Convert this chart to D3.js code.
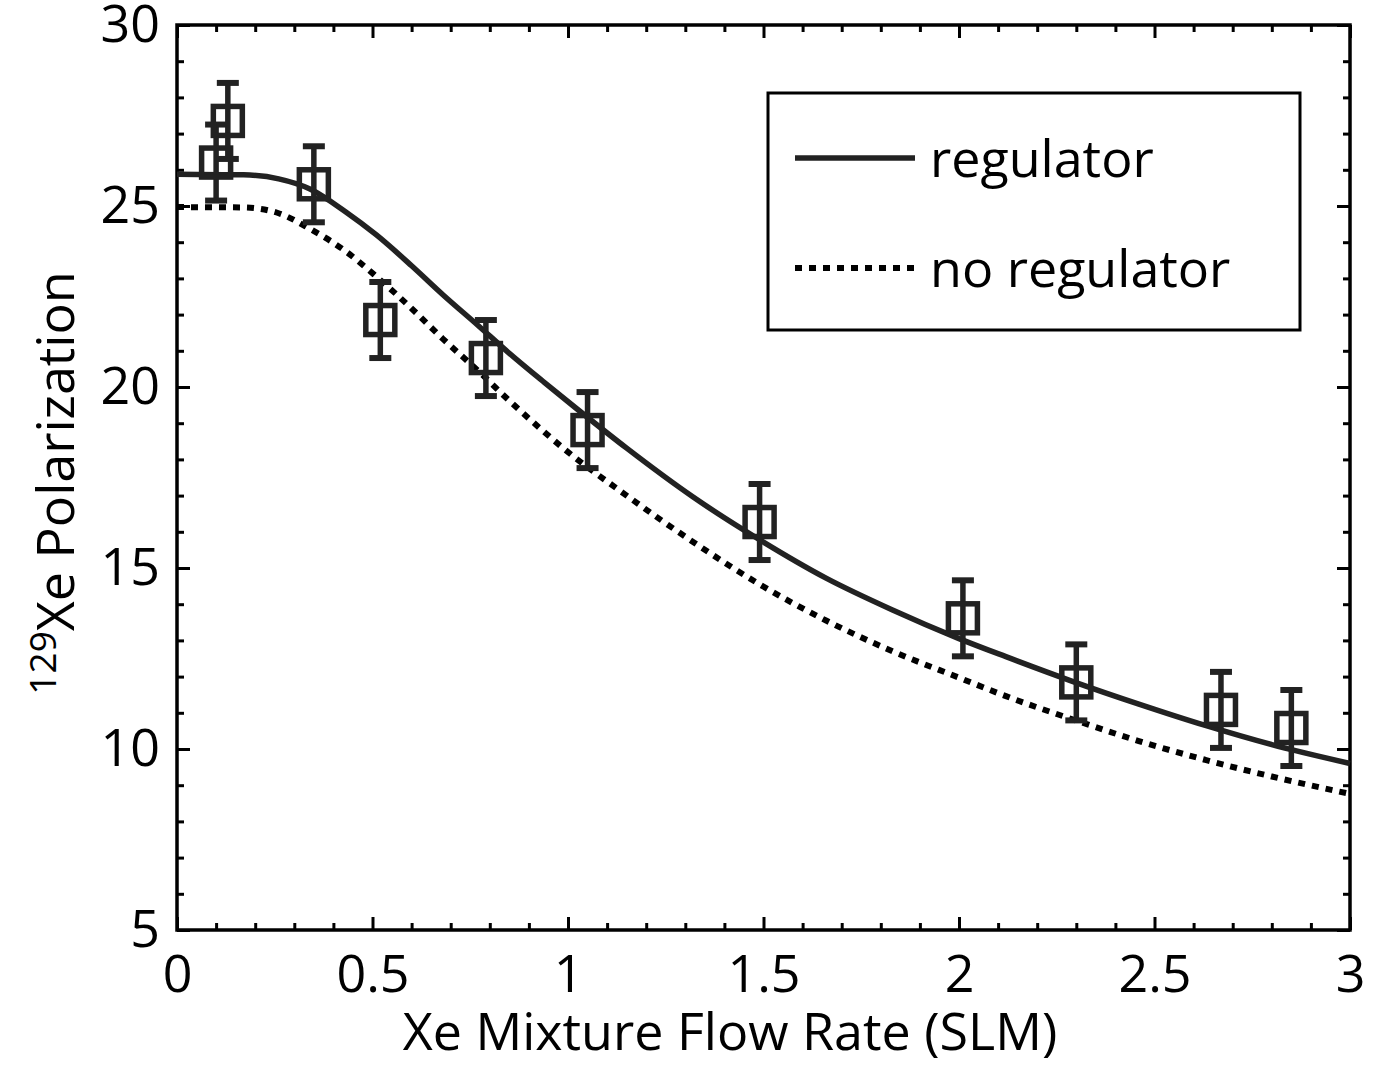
<!DOCTYPE html>
<html>
<head>
<meta charset="utf-8">
<script src="https://cdn.jsdelivr.net/npm/d3@7"></script>
<style>
    body { margin: 0; background: #fff; }
    text { font-family: "Open Sans", sans-serif; fill: #000; }
</style>
</head>
<body>
<div id="chart"></div>
<script>
// --------------------------------------------------
// Xe polarization vs. mixture flow rate, measured points + two fit curves

// measured points (with error bars)
var flowRate = [0.10, 0.13, 0.35, 0.52, 0.79, 1.05, 1.49, 2.01, 2.30, 2.67, 2.85];
var polarization = [26.2, 27.35, 25.6, 21.85, 20.8, 18.81, 16.27, 13.61, 11.84, 11.08, 10.58];
var polErr = [1.05, 1.05, 1.05, 1.05, 1.05, 1.05, 1.05, 1.05, 1.05, 1.05, 1.05];

// "regulator" curve (solid)
var regX = [0.00, 0.17, 0.26, 0.34, 0.43, 0.51, 0.60, 0.68, 0.77, 0.85, 0.94, 1.02,
    1.15, 1.32, 1.49, 1.66, 1.83, 2.00, 2.12, 2.29, 2.46, 2.63, 2.80, 3.00];
var regY = [25.88, 25.86, 25.75, 25.47, 24.85, 24.20, 23.35, 22.55, 21.70, 20.93, 20.12, 19.42,
    18.31, 16.96, 15.78, 14.72, 13.84, 13.05, 12.55, 11.87, 11.24, 10.65, 10.12, 9.60];

// "no regulator" curve (dotted)
var noRegX = [0.00, 0.17, 0.26, 0.34, 0.43, 0.51, 0.60, 0.68, 0.77, 0.85, 0.94, 0.98,
    1.15, 1.32, 1.49, 1.66, 1.83, 2.00, 2.12, 2.29, 2.46, 2.63, 2.80, 3.00];
var noRegY = [24.97, 24.96, 24.80, 24.37, 23.76, 23.05, 22.17, 21.33, 20.45, 19.62, 18.75, 18.38,
    17.00, 15.72, 14.55, 13.55, 12.70, 11.97, 11.46, 10.82, 10.22, 9.70, 9.24, 8.76];

var xTicks = [0, 0.5, 1, 1.5, 2, 2.5, 3];
var yTicks = [5, 10, 15, 20, 25, 30];
var legendLabels = ["regulator", "no regulator"];

var margin = { left: 177, right: 28, top: 25, bottom: 135 };
var width = 1378 - margin.left - margin.right;
var height = 1065 - margin.top - margin.bottom;

var svg = d3.select("#chart")
    .append("svg")
    .attr("width", 1378)
    .attr("height", 1065);

var g = svg.append("g")
    .attr("transform", "translate(" + margin.left + ", " + margin.top + ")");

var x = d3.scaleLinear().domain([0, 3]).range([0, width]);
var y = d3.scaleLinear().domain([5, 30]).range([height, 0]);

// minor tick values
var xMinor = d3.range(0, 31).map(function(i) { return i / 10; })
    .filter(function(v) { return Math.round(v * 10) % 5 !== 0; });
var yMinor = d3.range(5, 31).filter(function(v) { return v % 5 !== 0; });

// bottom / top axes
g.append("g")
    .attr("class", "x-axis")
    .attr("transform", "translate(0, " + height + ")")
    .call(d3.axisBottom(x).tickValues(xTicks).tickSize(-13).tickPadding(25)
        .tickFormat(function(d) { return d; }));
g.append("g")
    .attr("transform", "translate(0, " + height + ")")
    .call(d3.axisBottom(x).tickValues(xMinor).tickSize(-7).tickFormat(""));
g.append("g")
    .call(d3.axisTop(x).tickValues(xTicks).tickSize(-13).tickFormat(""));
g.append("g")
    .call(d3.axisTop(x).tickValues(xMinor).tickSize(-7).tickFormat(""));

// left / right axes
g.append("g")
    .attr("class", "y-axis")
    .call(d3.axisLeft(y).tickValues(yTicks).tickSize(-13).tickPadding(17));
g.append("g")
    .call(d3.axisLeft(y).tickValues(yMinor).tickSize(-7).tickFormat(""));
g.append("g")
    .attr("transform", "translate(" + width + ", 0)")
    .call(d3.axisRight(y).tickValues(yTicks).tickSize(-13).tickFormat(""));
g.append("g")
    .attr("transform", "translate(" + width + ", 0)")
    .call(d3.axisRight(y).tickValues(yMinor).tickSize(-7).tickFormat(""));

g.selectAll(".domain").remove();
g.selectAll(".tick line")
    .attr("stroke", "#000")
    .attr("stroke-width", 3);
g.selectAll(".tick text")
    .attr("font-size", "52px")
    .attr("fill", "#000");

// frame
g.append("rect")
    .attr("x", 0)
    .attr("y", 0)
    .attr("width", width)
    .attr("height", height)
    .attr("fill", "none")
    .attr("stroke", "#000")
    .attr("stroke-width", 3.5);

// curves
var regData = regX.map(function(d, i) { return [d, regY[i]]; });
var noRegData = noRegX.map(function(d, i) { return [d, noRegY[i]]; });

var line = d3.line()
    .x(function(d) { return x(d[0]); })
    .y(function(d) { return y(d[1]); })
    .curve(d3.curveMonotoneX);

g.append("path")
    .datum(noRegData)
    .attr("d", line)
    .attr("fill", "none")
    .attr("stroke", "#000")
    .attr("stroke-width", 6)
    .attr("stroke-dasharray", "7,7");

g.append("path")
    .datum(regData)
    .attr("d", line)
    .attr("fill", "none")
    .attr("stroke", "#222")
    .attr("stroke-width", 5.5);

// error bars + square markers
var pts = flowRate.map(function(d, i) {
    return { x: d, y: polarization[i], err: polErr[i] };
});

var pg = g.selectAll(".pt")
    .data(pts)
    .enter()
    .append("g")
    .attr("class", "pt");

pg.append("line")
    .attr("x1", function(d) { return x(d.x); })
    .attr("x2", function(d) { return x(d.x); })
    .attr("y1", function(d) { return y(d.y + d.err); })
    .attr("y2", function(d) { return y(d.y - d.err); })
    .attr("stroke", "#222")
    .attr("stroke-width", 5.5);

[1, -1].forEach(function(s) {
    pg.append("line")
        .attr("x1", function(d) { return x(d.x) - 11; })
        .attr("x2", function(d) { return x(d.x) + 11; })
        .attr("y1", function(d) { return y(d.y + s * d.err); })
        .attr("y2", function(d) { return y(d.y + s * d.err); })
        .attr("stroke", "#222")
        .attr("stroke-width", 6);
});

pg.append("rect")
    .attr("x", function(d) { return x(d.x) - 14.5; })
    .attr("y", function(d) { return y(d.y) - 14.5; })
    .attr("width", 29)
    .attr("height", 29)
    .attr("fill", "none")
    .attr("stroke", "#222")
    .attr("stroke-width", 5.5);

// legend
var lg = svg.append("g");
lg.append("rect")
    .attr("x", 768)
    .attr("y", 93)
    .attr("width", 532)
    .attr("height", 237)
    .attr("fill", "#fff")
    .attr("stroke", "#000")
    .attr("stroke-width", 3);

lg.append("line")
    .attr("x1", 795).attr("x2", 915)
    .attr("y1", 158).attr("y2", 158)
    .attr("stroke", "#222")
    .attr("stroke-width", 5.5);
lg.append("line")
    .attr("x1", 795).attr("x2", 915)
    .attr("y1", 268).attr("y2", 268)
    .attr("stroke", "#000")
    .attr("stroke-width", 6)
    .attr("stroke-dasharray", "7,7");

lg.selectAll(".leg-text")
    .data(legendLabels)
    .enter()
    .append("text")
    .attr("x", 930)
    .attr("y", function(d, i) { return 177 + i * 110; })
    .attr("font-size", "52px")
    .text(function(d) { return d; });

// x label
svg.append("text")
    .attr("x", 730)
    .attr("y", 1050)
    .attr("font-size", "52px")
    .attr("text-anchor", "middle")
    .text("Xe Mixture Flow Rate (SLM)");

// y label
var yl = svg.append("text")
    .attr("transform", "translate(74, 483) rotate(-90)")
    .attr("font-size", "52px")
    .attr("text-anchor", "middle");
yl.append("tspan")
    .attr("font-size", "37px")
    .attr("dy", -18)
    .text("129");
yl.append("tspan")
    .attr("dy", 18)
    .text("Xe Polarization");
</script>
</body>
</html>
